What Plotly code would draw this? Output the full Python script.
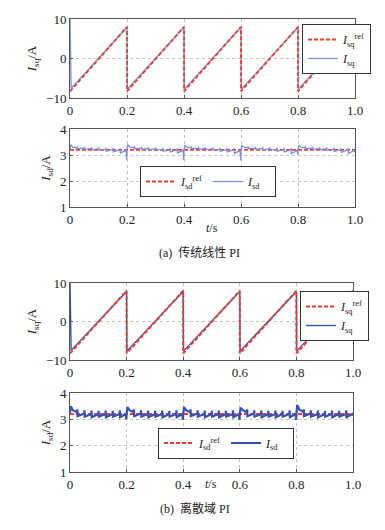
import plotly.graph_objects as go

# ---------------- data ----------------
iq_ref_t = [0, 0.2, 0.2, 0.4, 0.4, 0.6, 0.6, 0.8, 0.8, 1.0]
iq_ref = [-8.3, 8, -8.3, 8, -8.3, 8, -8.3, 8, -8.3, 8]

iq_t = [0, 0.004, 0.2, 0.201, 0.4, 0.401, 0.6, 0.601, 0.8, 0.801, 1.0]
iq_a = [10, -7.6, 7.9, -7.8, 7.9, -7.8, 7.9, -7.8, 7.9, -7.8, 7.9]
iq_b = [10, -7.5, 7.8, -7.7, 7.8, -7.7, 7.8, -7.7, 7.8, -7.7, 7.8]

id_ref_t = [0, 1.0]
id_ref = [3.2, 3.2]

id_t = [
    0.000, 0.003, 0.010, 0.025, 0.026, 0.027, 0.050, 0.051, 0.052, 0.075, 0.076, 0.077, 0.100,
    0.101, 0.102, 0.125, 0.126, 0.127, 0.150, 0.151, 0.152, 0.175, 0.176, 0.177, 0.197, 0.199,
    0.200, 0.203, 0.210, 0.225, 0.226, 0.227, 0.250, 0.251, 0.252, 0.275, 0.276, 0.277, 0.300,
    0.301, 0.302, 0.325, 0.326, 0.327, 0.350, 0.351, 0.352, 0.375, 0.376, 0.377, 0.397, 0.399,
    0.400, 0.403, 0.410, 0.425, 0.426, 0.427, 0.450, 0.451, 0.452, 0.475, 0.476, 0.477, 0.500,
    0.501, 0.502, 0.525, 0.526, 0.527, 0.550, 0.551, 0.552, 0.575, 0.576, 0.577, 0.597, 0.599,
    0.600, 0.603, 0.610, 0.625, 0.626, 0.627, 0.650, 0.651, 0.652, 0.675, 0.676, 0.677, 0.700,
    0.701, 0.702, 0.725, 0.726, 0.727, 0.750, 0.751, 0.752, 0.775, 0.776, 0.777, 0.797, 0.799,
    0.800, 0.803, 0.810, 0.825, 0.826, 0.827, 0.850, 0.851, 0.852, 0.875, 0.876, 0.877, 0.900,
    0.901, 0.902, 0.925, 0.926, 0.927, 0.950, 0.951, 0.952, 0.975, 0.976, 0.977, 0.997, 1.000,
]
id_a = [
    3.22, 3.40, 3.30, 3.28, 3.33, 3.24, 3.26, 3.31, 3.22, 3.25, 3.30, 3.20, 3.24,
    3.29, 3.18, 3.22, 3.28, 3.15, 3.21, 3.27, 3.12, 3.20, 3.26, 3.08, 3.18, 2.82,
    3.22, 3.40, 3.30, 3.28, 3.33, 3.24, 3.26, 3.31, 3.22, 3.25, 3.30, 3.20, 3.24,
    3.29, 3.18, 3.22, 3.28, 3.15, 3.21, 3.27, 3.12, 3.20, 3.26, 3.08, 3.18, 2.80,
    3.22, 3.38, 3.30, 3.28, 3.33, 3.24, 3.26, 3.31, 3.22, 3.25, 3.30, 3.20, 3.24,
    3.29, 3.18, 3.22, 3.28, 3.15, 3.21, 3.27, 3.12, 3.20, 3.26, 3.06, 3.18, 2.80,
    3.22, 3.36, 3.30, 3.28, 3.33, 3.24, 3.26, 3.31, 3.22, 3.25, 3.30, 3.20, 3.24,
    3.29, 3.18, 3.22, 3.28, 3.15, 3.21, 3.27, 3.12, 3.20, 3.26, 3.05, 3.18, 3.02,
    3.22, 3.36, 3.30, 3.28, 3.33, 3.24, 3.26, 3.31, 3.22, 3.25, 3.30, 3.20, 3.24,
    3.29, 3.18, 3.22, 3.28, 3.14, 3.21, 3.27, 3.10, 3.20, 3.26, 3.06, 3.18, 3.10,
]
id_b = [
    3.25, 3.50, 3.35, 3.27, 3.38, 3.12, 3.22, 3.34, 3.10, 3.20, 3.33, 3.08, 3.20,
    3.32, 3.10, 3.20, 3.33, 3.08, 3.20, 3.32, 3.10, 3.20, 3.34, 3.08, 3.20, 3.00,
    3.22, 3.46, 3.35, 3.27, 3.38, 3.12, 3.22, 3.34, 3.10, 3.20, 3.33, 3.08, 3.20,
    3.32, 3.10, 3.20, 3.33, 3.08, 3.20, 3.32, 3.10, 3.20, 3.34, 3.08, 3.20, 2.98,
    3.22, 3.46, 3.35, 3.27, 3.38, 3.12, 3.22, 3.34, 3.10, 3.20, 3.33, 3.08, 3.20,
    3.32, 3.10, 3.20, 3.33, 3.08, 3.20, 3.32, 3.10, 3.20, 3.34, 3.08, 3.20, 2.98,
    3.22, 3.44, 3.35, 3.27, 3.38, 3.12, 3.22, 3.34, 3.10, 3.20, 3.33, 3.08, 3.20,
    3.32, 3.10, 3.20, 3.33, 3.08, 3.20, 3.32, 3.10, 3.20, 3.34, 3.08, 3.20, 2.98,
    3.22, 3.55, 3.38, 3.27, 3.38, 3.12, 3.22, 3.34, 3.10, 3.20, 3.33, 3.08, 3.20,
    3.32, 3.10, 3.20, 3.33, 3.08, 3.20, 3.32, 3.10, 3.20, 3.34, 3.08, 3.20, 3.15,
]

x_ticks = [0, 0.2, 0.4, 0.6, 0.8, 1.0]
x_ticktext = ["0", "0.2", "0.4", "0.6", "0.8", "1.0"]
iq_ticks = [-10, 0, 10]
id_ticks = [1, 2, 3, 4]

captions = ["(a)  传统线性 PI", "(b)  离散域 PI"]
x_title = "<i>t</i>/s"

# ---------------- style ----------------
SERIF = "Liberation Serif, Times New Roman, serif"
CAP_FONT = "Liberation Serif, Noto Sans CJK SC, serif"
RED = "#f03c2e"
BLUE_A = "#7c8ee0"
BLUE_B = "#3452b4"
W, H = 385, 530

def px_dom_y(top, bottom):
    return [1 - bottom / H, 1 - top / H]

fig = go.Figure()

lbl_ref_q = "<i>I</i><sub>sq</sub><sup>ref</sup>"
lbl_q = "<i>I</i><sub>sq</sub>"
lbl_ref_d = "<i>I</i><sub>sd</sub><sup>ref</sup>"
lbl_d = "<i>I</i><sub>sd</sub>"

# panel (a) top
fig.add_trace(go.Scatter(x=iq_t, y=iq_a, mode="lines", name=lbl_q, legend="legend",
                         line=dict(color=BLUE_A, width=1.3), xaxis="x", yaxis="y", legendrank=2))
fig.add_trace(go.Scatter(x=iq_ref_t, y=iq_ref, mode="lines", name=lbl_ref_q, legend="legend",
                         line=dict(color=RED, width=1.8, dash="4px,2px"), xaxis="x", yaxis="y", legendrank=1))
# panel (a) bottom
fig.add_trace(go.Scatter(x=id_ref_t, y=id_ref, mode="lines", name=lbl_ref_d, legend="legend2",
                         line=dict(color=RED, width=1.8, dash="4px,2px"), xaxis="x2", yaxis="y2"))
fig.add_trace(go.Scatter(x=id_t, y=id_a, mode="lines", name=lbl_d, legend="legend2",
                         line=dict(color=BLUE_A, width=1.3), xaxis="x2", yaxis="y2"))
# panel (b) top
fig.add_trace(go.Scatter(x=iq_t, y=iq_b, mode="lines", name=lbl_q, legend="legend3",
                         line=dict(color=BLUE_B, width=1.4), xaxis="x3", yaxis="y3", legendrank=2))
fig.add_trace(go.Scatter(x=iq_ref_t, y=iq_ref, mode="lines", name=lbl_ref_q, legend="legend3",
                         line=dict(color=RED, width=2, dash="4px,2px"), xaxis="x3", yaxis="y3", legendrank=1))
# panel (b) bottom
fig.add_trace(go.Scatter(x=id_ref_t, y=id_ref, mode="lines", name=lbl_ref_d, legend="legend4",
                         line=dict(color=RED, width=2, dash="4px,2px"), xaxis="x4", yaxis="y4"))
fig.add_trace(go.Scatter(x=id_t, y=id_b, mode="lines", name=lbl_d, legend="legend4",
                         line=dict(color=BLUE_B, width=2.2), xaxis="x4", yaxis="y4"))

axis_common = dict(showline=True, mirror=True, linecolor="#555555", linewidth=1,
                   showgrid=True, gridcolor="#c4c4c4", griddash="dot", gridwidth=1,
                   zeroline=False, ticks="inside", ticklen=3, tickcolor="#555555",
                   automargin=False,
                   tickfont=dict(family=SERIF, size=13, color="#222"))

def xaxis(domain, anchor):
    return dict(axis_common, domain=domain, anchor=anchor, range=[0, 1.0],
                tickvals=x_ticks, ticktext=x_ticktext)

def yaxis(domain, anchor, rng, ticks, title):
    return dict(axis_common, domain=domain, anchor=anchor, range=rng, tickvals=ticks,
                title=dict(text=title, font=dict(family=SERIF, size=13, color="#222"), standoff=6))

xd_a = [70 / W, 355 / W]
xd_b = [70 / W, 353 / W]

legend_common = dict(bgcolor="white", bordercolor="#333", borderwidth=1,
                     font=dict(family=SERIF, size=12, color="#222"), itemwidth=30,
                     tracegroupgap=0)

fig.update_layout(
    width=W, height=H, margin=dict(l=0, r=0, t=0, b=0, autoexpand=False),
    paper_bgcolor="white", plot_bgcolor="white",
    xaxis=xaxis(xd_a, "y"),
    yaxis=yaxis(px_dom_y(19, 98), "x", [-10, 10], iq_ticks, "<i>I</i><sub>sq</sub>/A"),
    xaxis2=xaxis(xd_a, "y2"),
    yaxis2=yaxis(px_dom_y(129, 207), "x2", [1, 4], id_ticks, "<i>I</i><sub>sd</sub>/A"),
    xaxis3=xaxis(xd_b, "y3"),
    yaxis3=yaxis(px_dom_y(283, 360), "x3", [-10, 10], iq_ticks, "<i>I</i><sub>sq</sub>/A"),
    xaxis4=xaxis(xd_b, "y4"),
    yaxis4=yaxis(px_dom_y(393, 472), "x4", [1, 4], id_ticks, "<i>I</i><sub>sd</sub>/A"),
    legend=dict(legend_common, x=302 / W, y=1 - 24 / H, xanchor="left", yanchor="top",
                orientation="v"),
    legend2=dict(legend_common, x=208 / W, y=1 - 181.5 / H, xanchor="center", yanchor="middle",
                 orientation="h", entrywidth=22, entrywidthmode="pixels"),
    legend3=dict(legend_common, x=300 / W, y=1 - 291 / H, xanchor="left", yanchor="top",
                 orientation="v"),
    legend4=dict(legend_common, x=226 / W, y=1 - 443 / H, xanchor="center", yanchor="middle",
                 orientation="h", entrywidth=22, entrywidthmode="pixels"),
    showlegend=True,
)

for cx, cy in [(212, 228), (211, 493)]:
    fig.add_annotation(text=x_title, x=cx / W, y=1 - cy / H, xref="paper", yref="paper",
                       showarrow=False, font=dict(family=SERIF, size=12, color="#222"))

fig.add_annotation(text=captions[0], x=200 / W, y=1 - 252 / H,
                   xref="paper", yref="paper", showarrow=False,
                   font=dict(family=CAP_FONT, size=12, color="#222"))
fig.add_annotation(text=captions[1], x=195 / W, y=1 - 518 / H,
                   xref="paper", yref="paper", showarrow=False,
                   font=dict(family=CAP_FONT, size=12, color="#222"))

fig.write_html("out.html", config={"displayModeBar": False},
               post_script="document.body.style.margin='0px';")
